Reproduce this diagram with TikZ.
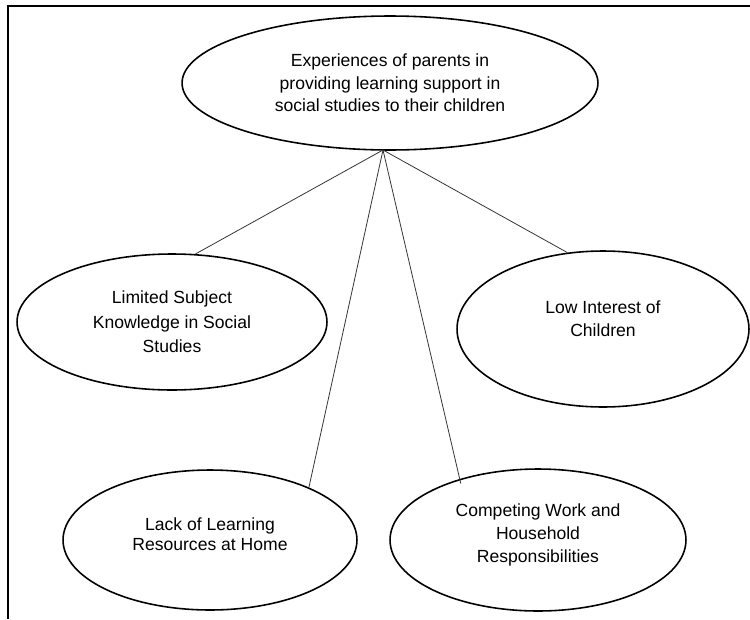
\documentclass[tikz,border=0pt]{standalone}
\usepackage{fontspec}
\setmainfont{Liberation Sans}
\usetikzlibrary{shapes.geometric}
\tikzset{
  theme/.style={ellipse, draw, line width=0.9pt, inner sep=0pt, align=center,
    font=\fontsize{10}{13}\selectfont},
  link/.style={line width=0.45pt, black!80}
}
\begin{document}
\begin{tikzpicture}[x=0.02cm, y=-0.02cm]
            \useasboundingbox (0,0) rectangle (750,619);
            \draw[line width=1.2pt] (8,619) -- (8,6) -- (750,6);
            \node[theme, minimum width=8.32cm, minimum height=2.68cm, font=\fontsize{10}{12.8}\selectfont] (top) at (390,83) {Experiences of parents in\\providing learning support in\\social studies to their children};
            \node[theme, minimum width=6.2cm, minimum height=2.72cm, font=\fontsize{10}{14}\selectfont] (lim) at (172,322) {Limited Subject\\Knowledge in Social\\Studies};
            \node[theme, minimum width=5.84cm, minimum height=3.12cm] (low) at (603,329) {Low Interest of\\Children\\[-1pt]};
            \node[theme, minimum width=5.88cm, minimum height=2.8cm, font=\fontsize{10}{11.5}\selectfont] (lack) at (210,540) {Lack of Learning\\Resources at Home\\[-5pt]};
            \node[theme, minimum width=5.92cm, minimum height=2.84cm] (comp) at (538,540) {Competing Work and\\Household\\Responsibilities\\[-5pt]};
            \coordinate (hub) at (383,150);
            \draw[link] (hub) -- (lim.71);
            \draw[link] (hub) -- (low.115);
            \draw[link] (hub) -- (lack.28);
            \draw[link] (hub) -- ([shift={(3,4)}]comp.143);
        \end{tikzpicture}
\end{document}
